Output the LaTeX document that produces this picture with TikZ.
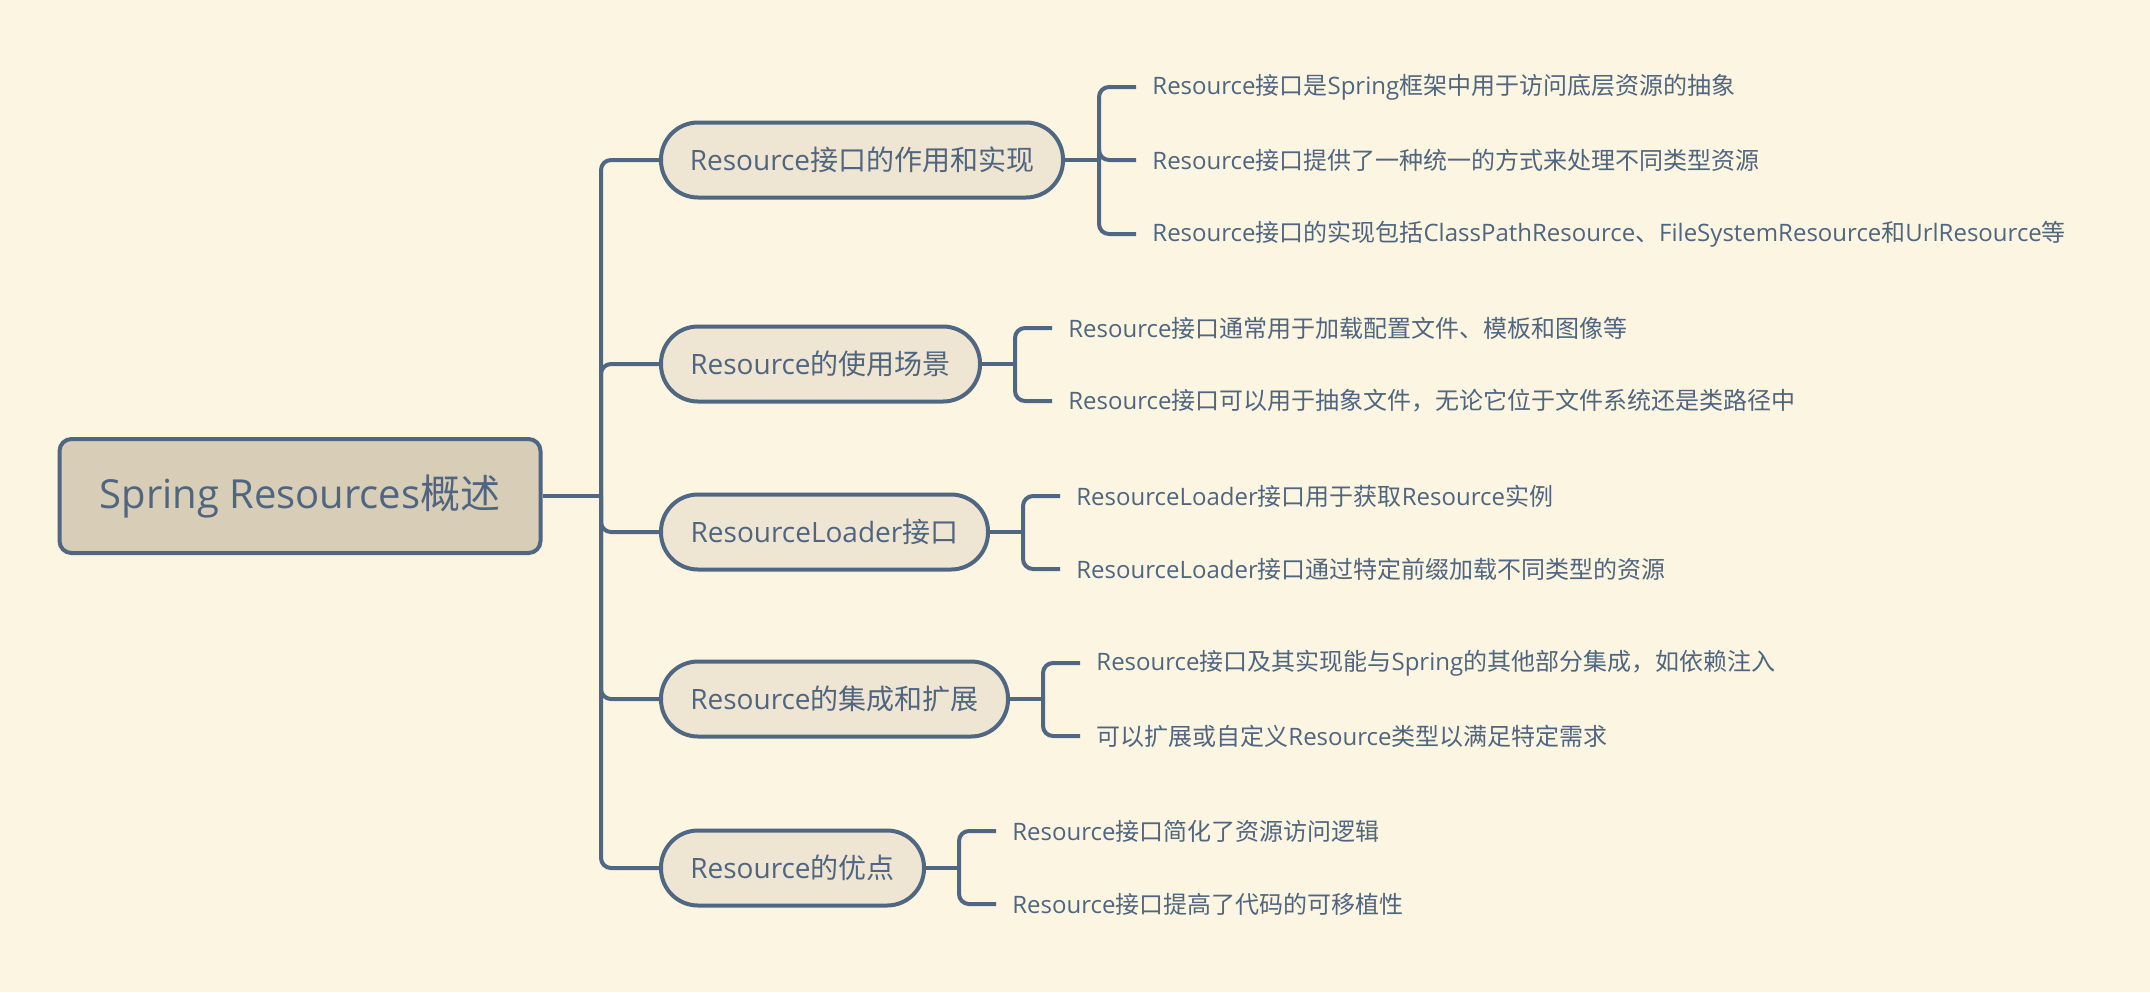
\documentclass[tikz,border=0pt]{standalone}
\usepackage{fontspec}
\setmainfont{Open Sans}
\newfontfamily\cjkfont{Noto Sans CJK SC}
\newfontfamily\latfont{Open Sans}
\XeTeXinterchartokenstate=1
\newXeTeXintercharclass\CJKcls
\makeatletter
\count@="3000
\loop
  \XeTeXcharclass\count@=\CJKcls
  \ifnum\count@<"9FFF \advance\count@ by 1
\repeat
\count@="FF00
\loop
  \XeTeXcharclass\count@=\CJKcls
  \ifnum\count@<"FFEF \advance\count@ by 1
\repeat
\makeatother
\XeTeXinterchartoks 0 \CJKcls = {\cjkfont}
\XeTeXinterchartoks \CJKcls 0 = {\latfont}
\definecolor{bg}{HTML}{FBF5E1}
\definecolor{rootfill}{HTML}{D8CDB6}
\definecolor{topicfill}{HTML}{EEE6D2}
\definecolor{lc}{HTML}{4F6782}
\definecolor{tc}{HTML}{4F6580}
\tikzset{
  conn/.style={draw=lc, line width=2pt, rounded corners=5pt},
  rootbox/.style={draw=lc, line width=2pt, fill=rootfill, rounded corners=6pt,
    minimum width=240.5pt, minimum height=57pt, inner sep=0pt,
    font=\fontsize{20}{24}\selectfont, text=tc},
  topic/.style={draw=lc, line width=2pt, fill=topicfill, rounded corners=18.5pt,
    minimum height=37.5pt, inner sep=0pt, anchor=west,
    font=\fontsize{14}{17}\selectfont, text=tc},
  leaf/.style={anchor=west, inner xsep=8pt, inner ysep=0pt,
    font=\fontsize{12}{14}\selectfont, text=tc},
}
\begin{document}
\begin{tikzpicture}[x=0.5pt, y=-0.5pt]
\fill[bg] (0,0) rectangle (2150,992);
\useasboundingbox (0,0) rectangle (2150,992);

\node[rootbox] (root) at (300,496) {Spring Resources概述};
\coordinate (t) at (601,496);

\node[topic, minimum width=201pt]   (b1) at (659,160) {Resource接口的作用和实现};
\node[topic, minimum width=159.5pt] (b2) at (659,364) {Resource的使用场景};
\node[topic, minimum width=163.5pt] (b3) at (659,532) {ResourceLoader接口};
\node[topic, minimum width=173.5pt] (b4) at (659,699) {Resource的集成和扩展};
\node[topic, minimum width=131.5pt] (b5) at (659,868) {Resource的优点};

\coordinate (k1) at (1099,160);
\coordinate (k2) at (1015,364);
\coordinate (k3) at (1023,532);
\coordinate (k4) at (1043,699);
\coordinate (k5) at (959,868);

\node[leaf] (l1a) at (1136,87)  {Resource接口是Spring框架中用于访问底层资源的抽象};
\node[leaf] (l1b) at (1136,160) {Resource接口提供了一种统一的方式来处理不同类型资源};
\node[leaf] (l1c) at (1136,234) {Resource接口的实现包括ClassPathResource、FileSystemResource和UrlResource等};
\node[leaf] (l2a) at (1052,328) {Resource接口通常用于加载配置文件、模板和图像等};
\node[leaf] (l2b) at (1052,401) {Resource接口可以用于抽象文件，无论它位于文件系统还是类路径中};
\node[leaf] (l3a) at (1060,496) {ResourceLoader接口用于获取Resource实例};
\node[leaf] (l3b) at (1060,569) {ResourceLoader接口通过特定前缀加载不同类型的资源};
\node[leaf] (l4a) at (1080,663) {Resource接口及其实现能与Spring的其他部分集成，如依赖注入};
\node[leaf] (l4b) at (1080,736) {\cjkfont 可以扩展或自定义Resource类型以满足特定需求};
\node[leaf] (l5a) at (996,831)  {Resource接口简化了资源访问逻辑};
\node[leaf] (l5b) at (996,904)  {Resource接口提高了代码的可移植性};

\draw[conn] (root.east) -- (t);
\foreach \b in {b1,b2,b3,b4,b5} \draw[conn] (t) |- (\b.west);

\draw[conn] (b1.east) -- (k1);
\foreach \l in {l1a,l1b,l1c} \draw[conn] (k1) |- (\l.west);
\draw[conn] (b2.east) -- (k2);
\foreach \l in {l2a,l2b} \draw[conn] (k2) |- (\l.west);
\draw[conn] (b3.east) -- (k3);
\foreach \l in {l3a,l3b} \draw[conn] (k3) |- (\l.west);
\draw[conn] (b4.east) -- (k4);
\foreach \l in {l4a,l4b} \draw[conn] (k4) |- (\l.west);
\draw[conn] (b5.east) -- (k5);
\foreach \l in {l5a,l5b} \draw[conn] (k5) |- (\l.west);
\end{tikzpicture}
\end{document}
